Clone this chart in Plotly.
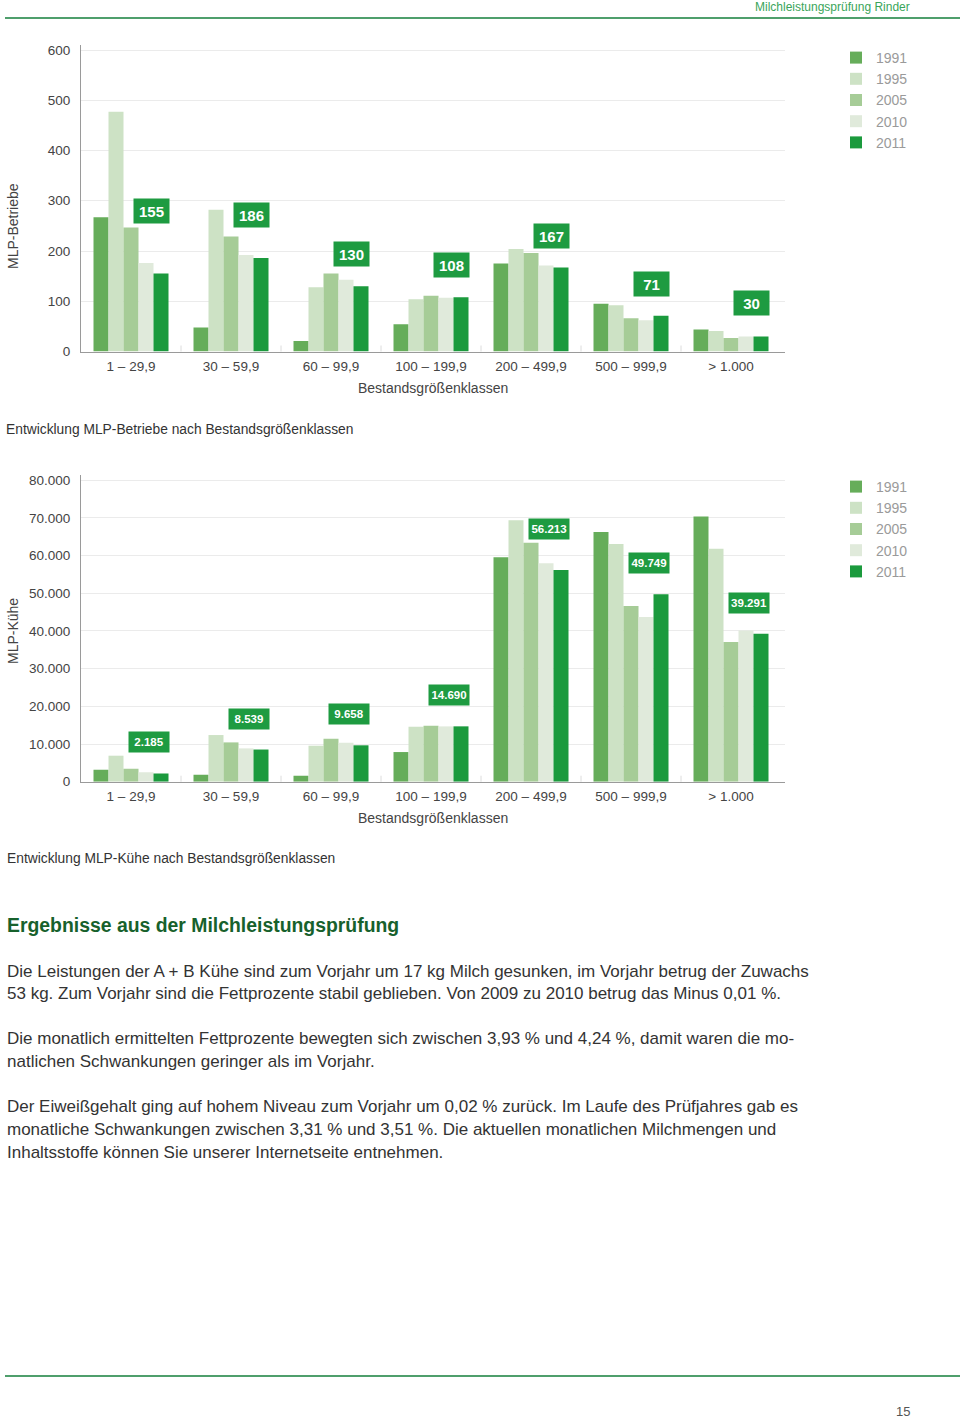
import plotly.graph_objects as go

# ---------------- data ----------------
categories = ["1 – 29,9", "30 – 59,9", "60 – 99,9", "100 – 199,9",
              "200 – 499,9", "500 – 999,9", "> 1.000"]
years = ["1991", "1995", "2005", "2010", "2011"]

betriebe_1991 = [267, 48, 21, 54, 175, 95, 44]
betriebe_1995 = [477, 282, 128, 104, 204, 92, 41]
betriebe_2005 = [247, 229, 155, 111, 196, 66, 27]
betriebe_2010 = [176, 192, 143, 107, 171, 62, 30]
betriebe_2011 = [155, 186, 130, 108, 167, 71, 30]

kuehe_1991 = [3180, 1860, 1590, 7870, 59600, 66300, 70400]
kuehe_1995 = [6900, 12380, 9550, 14590, 69400, 63100, 61800]
kuehe_2005 = [3450, 10430, 11400, 14850, 63400, 46600, 37050]
kuehe_2010 = [2480, 8840, 10340, 14680, 58000, 43700, 40100]
kuehe_2011 = [2185, 8539, 9658, 14690, 56213, 49749, 39291]

betriebe_ticks = [0, 100, 200, 300, 400, 500, 600]
kuehe_ticks = [0, 10000, 20000, 30000, 40000, 50000, 60000, 70000, 80000]

paragraph_lines = [
    "Die Leistungen der A + B Kühe sind zum Vorjahr um 17 kg Milch gesunken, im Vorjahr betrug der Zuwachs",
    "53 kg. Zum Vorjahr sind die Fettprozente stabil geblieben. Von 2009 zu 2010 betrug das Minus 0,01 %.",
    "Die monatlich ermittelten Fettprozente bewegten sich zwischen 3,93 % und 4,24 %, damit waren die mo-",
    "natlichen Schwankungen geringer als im Vorjahr.",
    "Der Eiweißgehalt ging auf hohem Niveau zum Vorjahr um 0,02 % zurück. Im Laufe des Prüfjahres gab es",
    "monatliche Schwankungen zwischen 3,31 % und 3,51 %. Die aktuellen monatlichen Milchmengen und",
    "Inhaltsstoffe können Sie unserer Internetseite entnehmen.",
]

# ---------------- style ----------------
W, H = 960, 1419
FONT = "Liberation Sans"
colors = ["#66ad5a", "#cde2c5", "#a6cc97", "#e0eadb", "#1b9a3d"]
BOX = "#1e9b41"
TXT = "#444444"


def px(x):
    return x / W


def py(y):
    return 1 - y / H


fig = go.Figure()

betriebe = [betriebe_1991, betriebe_1995, betriebe_2005, betriebe_2010, betriebe_2011]
kuehe = [kuehe_1991, kuehe_1995, kuehe_2005, kuehe_2010, kuehe_2011]

for yr, vals, c in zip(years, betriebe, colors):
    fig.add_trace(go.Bar(x=categories, y=vals, name=yr, marker=dict(color=c, line=dict(width=0)),
                         xaxis="x", yaxis="y", legend="legend", hoverinfo="skip"))
for yr, vals, c in zip(years, kuehe, colors):
    fig.add_trace(go.Bar(x=categories, y=vals, name=yr, marker=dict(color=c, line=dict(width=0)),
                         xaxis="x2", yaxis="y2", legend="legend2", hoverinfo="skip"))

# plot areas (pixel positions)
X0, X1 = 81, 785
C1_TOP, C1_BOT = 45, 351.5
C2_TOP, C2_BOT = 475, 781.7

tickfont = dict(family=FONT, size=13.5, color=TXT)
axis_common = dict(
    type="category", range=[-0.5, 6.54], showgrid=False, showline=True,
    linecolor="#9a9a9a", linewidth=1, ticks="", fixedrange=True,
    tickfont=tickfont, ticklabelstandoff=2, automargin=False,
)
yaxis_common = dict(showgrid=True, gridcolor="#ebebeb", showline=True, linecolor="#9a9a9a",
                    zeroline=False, ticks="", tickfont=tickfont, fixedrange=True,
                    ticklabelstandoff=7, automargin=False)
fig.update_layout(
    xaxis=dict(domain=[px(X0), px(X1)], anchor="y", **axis_common),
    xaxis2=dict(domain=[px(X0), px(X1)], anchor="y2", **axis_common),
    yaxis=dict(domain=[py(C1_BOT), py(C1_TOP)], anchor="x", range=[0, 610],
               tickvals=betriebe_ticks, **yaxis_common),
    yaxis2=dict(domain=[py(C2_BOT), py(C2_TOP)], anchor="x2", range=[0, 81400],
                tickvals=kuehe_ticks, tickformat=",d", **yaxis_common),
    separators=",.",
    barmode="group", bargap=0.25, bargroupgap=0,
    width=W, height=H, margin=dict(l=0, r=0, t=0, b=0, pad=0, autoexpand=False),
    paper_bgcolor="white", plot_bgcolor="white",
    font=dict(family=FONT, color=TXT),
    legend=dict(x=px(836), y=py(42), xanchor="left", yanchor="top",
                font=dict(family=FONT, size=14, color="#9a9a9a"),
                bgcolor="rgba(0,0,0,0)", traceorder="normal", tracegroupgap=0),
    legend2=dict(x=px(836), y=py(471), xanchor="left", yanchor="top",
                 font=dict(family=FONT, size=14, color="#9a9a9a"),
                 bgcolor="rgba(0,0,0,0)", traceorder="normal", tracegroupgap=0),
)

shapes = []
# category separators below the x axes
for xr, yr in (("x", "y"), ("x2", "y2")):
    for i in range(1, len(categories)):
        shapes.append(dict(type="line", xref=xr, yref=yr, x0=i - 0.5, x1=i - 0.5,
                           ysizemode="pixel", yanchor=0, y0=-24, y1=6,
                           line=dict(color="#dcdcdc", width=1)))
# header / footer rules
shapes.append(dict(type="line", xref="paper", yref="paper", x0=px(5), x1=1, y0=py(18), y1=py(18),
                   line=dict(color="#4f9f6c", width=2)))
shapes.append(dict(type="line", xref="paper", yref="paper", x0=px(5), x1=1, y0=py(1376), y1=py(1376),
                   line=dict(color="#4f9f6c", width=2)))
fig.update_layout(shapes=shapes)

ann = []
# value labels for 2011
gaps1 = [50, 30, 19, 19, 19, 19, 20]
gaps2 = [20, 20, 20, 20, 30, 20, 20]
for cat, v, g in zip(categories, betriebe_2011, gaps1):
    ann.append(dict(x=cat, y=v, xref="x", yref="y", text=f"<b>{v}</b>", showarrow=False,
                    xanchor="center", yanchor="bottom", xshift=20, yshift=g,
                    width=35, height=24, bgcolor=BOX, borderpad=0,
                    font=dict(family=FONT, size=15, color="white")))
for cat, v, g in zip(categories, kuehe_2011, gaps2):
    ann.append(dict(x=cat, y=v, xref="x2", yref="y2", text="<b>" + f"{v:,}".replace(",", ".") + "</b>",
                    showarrow=False, xanchor="center", yanchor="bottom", xshift=17.5, yshift=g,
                    width=40, height=20, bgcolor=BOX, borderpad=0,
                    font=dict(family=FONT, size=11.5, color="white")))


def text(x, y, s, size=14, color=TXT, xanchor="left", angle=0, bold=False):
    ann.append(dict(x=px(x), y=py(y), xref="paper", yref="paper",
                    text=f"<b>{s}</b>" if bold else s, showarrow=False,
                    xanchor=xanchor, yanchor="middle", textangle=angle,
                    font=dict(family=FONT, size=size, color=color)))


text(912, 7, "Milchleistungsprüfung Rinder", size=12, color="#3aa55a", xanchor="right")
text(13, 226, "MLP-Betriebe", size=14, xanchor="center", angle=-90)
text(433, 388, "Bestandsgrößenklassen", size=14, xanchor="center")
text(4, 430, "Entwicklung MLP-Betriebe nach Bestandsgrößenklassen", size=13.8, color="#333333")
text(13, 631, "MLP-Kühe", size=14, xanchor="center", angle=-90)
text(433, 818, "Bestandsgrößenklassen", size=14, xanchor="center")
text(5, 858, "Entwicklung MLP-Kühe nach Bestandsgrößenklassen", size=13.8, color="#333333")
text(5, 925, "Ergebnisse aus der Milchleistungsprüfung", size=19.4, color="#17612c", bold=True)
line_y = [971, 993, 1038, 1061, 1106, 1129, 1152]
for s, yy in zip(paragraph_lines, line_y):
    text(5, yy, s, size=17, color="#333333")
text(903, 1411, "15", size=13, color="#555555", xanchor="center")

fig.update_layout(annotations=ann)

fig.write_html(
    "out.html", config={"displayModeBar": False, "staticPlot": True},
    post_script=("document.documentElement.style.margin='0';"
                 "document.documentElement.style.overflow='hidden';"
                 "document.body.style.margin='0';"
                 "document.body.style.overflow='hidden';"
                 "document.body.style.height='1419px';"),
)
